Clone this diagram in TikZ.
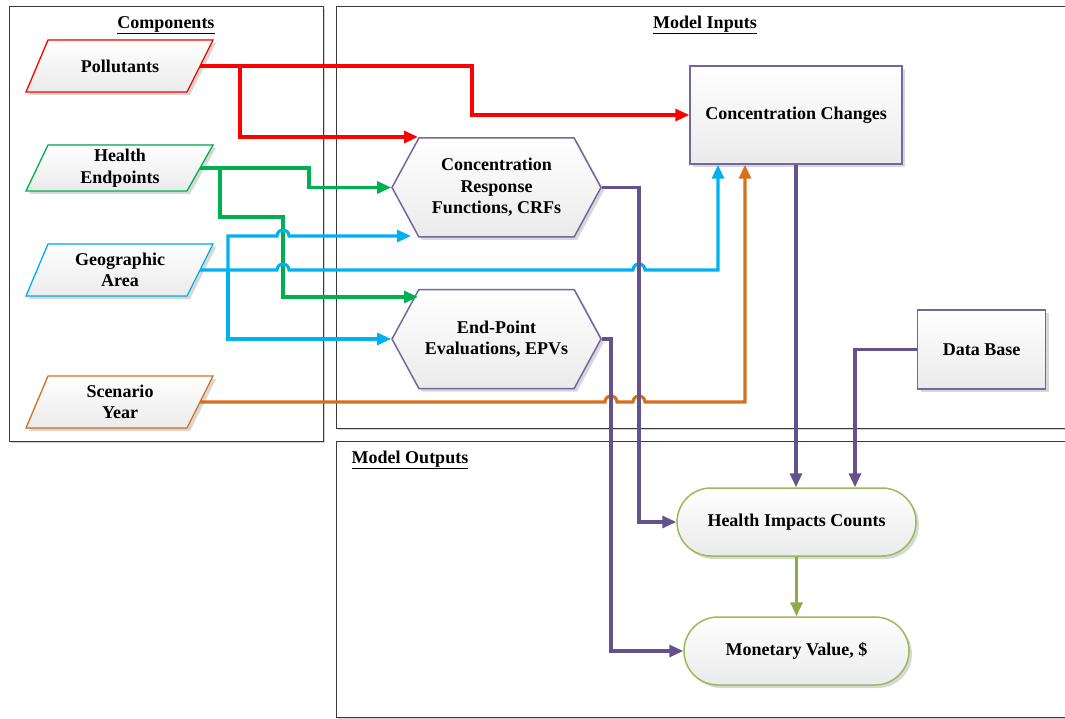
\documentclass[tikz,border=0pt]{standalone}
\usepackage{fontspec}
\setmainfont{Liberation Serif}
\usetikzlibrary{shapes.symbols,shapes.misc,arrows.meta,shadows}

\definecolor{lnred}{HTML}{FF0000}
\definecolor{lngreen}{HTML}{00B050}
\definecolor{lnblue}{HTML}{00B0F0}
\definecolor{lnorange}{HTML}{D5711E}
\definecolor{lnpurple}{HTML}{63528C}
\definecolor{lnolive}{HTML}{8FAA4C}
\definecolor{boxpurple}{HTML}{7566A0}
\definecolor{boxolive}{HTML}{9BBB59}

\tikzset{
  lbl/.style={font=\fontsize{18}{21.5}\selectfont\bfseries, align=center, inner sep=0pt},
  shadebox/.style={top color=white, bottom color=gray!16,
    drop shadow={shadow xshift=3pt, shadow yshift=-3pt, opacity=0.3}},
  parabox/.style={shadebox, line width=1.3pt},
  inlbl/.style={lbl, minimum width=160, minimum height=50},
  procbox/.style={lbl, shadebox, rectangle, draw=boxpurple, line width=1.5pt},
  hexbox/.style={lbl, shadebox, signal, signal to=west and east, signal pointer angle=123,
    minimum width=209, minimum height=99, draw=boxpurple, line width=1.5pt},
  outbox/.style={lbl, shadebox, rounded rectangle, draw=boxolive, line width=1.5pt, minimum height=68},
  section/.style={draw=gray!45!black, line width=1pt, fill=white,
    drop shadow={shadow xshift=2pt, shadow yshift=-2pt, opacity=0.35}},
  sectitle/.style={lbl},
  conn/.style={line width=3.1pt, -{Triangle[length=14pt,width=12pt]}}
}

\begin{document}
\begin{tikzpicture}[x=1pt,y=-1pt]
\useasboundingbox (0,0) rectangle (1065,719);

% sections
\draw[section] (9,7) rectangle (323,441);
\draw[section] (336,7) rectangle (1085,428);
\draw[section] (336,441) rectangle (1085,717);
\node[sectitle] (comp-t) at (166,25) {\underline{Components}};
\node[sectitle] (in-t) at (705,25) {\underline{Model Inputs}};
\node[sectitle] (out-t) at (410,460) {\underline{Model Outputs}};

% components
\foreach \y/\h/\c in {66/26/lnred, 168/23/lngreen, 270/26/lnblue, 402/26/lnorange}
  \filldraw[parabox, draw=\c] (26,\y+\h) -- (187,\y+\h) -- (213,\y-\h) -- (48,\y-\h) -- cycle;
\node[inlbl] (pol) at (120,66) {Pollutants};
\node[inlbl] (hep) at (120,168) {Health\\Endpoints};
\node[inlbl] (geo) at (120,270) {Geographic\\Area};
\node[inlbl] (scy) at (120,402) {Scenario\\Year};

% model boxes
\node[procbox, minimum width=212, minimum height=98] (cc) at (796,115) {Concentration Changes};
\node[procbox, minimum width=128, minimum height=79] (db) at (981.5,349.5) {Data Base};
\node[hexbox] (crf) at (496.5,187.5) {Concentration\\Response\\Functions, CRFs};
\node[hexbox] (epv) at (496.5,339) {End-Point\\Evaluations, EPVs};
\node[outbox, minimum width=239] (hic) at (796.5,522) {Health Impacts Counts};
\node[outbox, minimum width=225] (mv) at (796.5,651) {Monetary Value, \$};

\coordinate (crf-tl) at (418,137);
\coordinate (crf-bl) at (411,236);
\coordinate (epv-tl) at (418,297);

% red
\draw[conn, lnred] (pol.east) -- (472,66) |- (cc.west);
\draw[conn, lnred] (240,66) |- (crf-tl);
% green
\draw[conn, lngreen] (hep.east) -- (309,168) |- (crf.west);
\draw[conn, lngreen] (220,168) |- (283,217) |- (epv-tl);
% blue
\draw[conn, lnblue] (geo.east) -- (277,270) arc[start angle=180,end angle=360,radius=6]
  -- (633,270) arc[start angle=180,end angle=360,radius=6] -- (718,270) -- (cc.south -| 718,0);
\draw[conn, lnblue] (228,270) -- (228,236) -- (277,236) arc[start angle=180,end angle=360,radius=6] -- (crf-bl);
\draw[conn, lnblue] (228,270) |- (epv.west);
% orange
\draw[conn, lnorange] (scy.east) -- (605,402) arc[start angle=180,end angle=360,radius=6]
  -- (633,402) arc[start angle=180,end angle=360,radius=6] -- (745,402) -- (cc.south -| 745,0);
% purple
\draw[conn, lnpurple] (crf.east) -- (639,187.5) |- (hic.west);
\draw[conn, lnpurple] (epv.east) -- (611,339) |- (mv.west);
\draw[conn, lnpurple] (cc.south) -- (cc.south |- hic.north);
\draw[conn, lnpurple] (db.west) -| (hic.north -| 855,0);
% olive
\draw[conn, lnolive] (hic.south) -- (mv.north);
\end{tikzpicture}
\end{document}
